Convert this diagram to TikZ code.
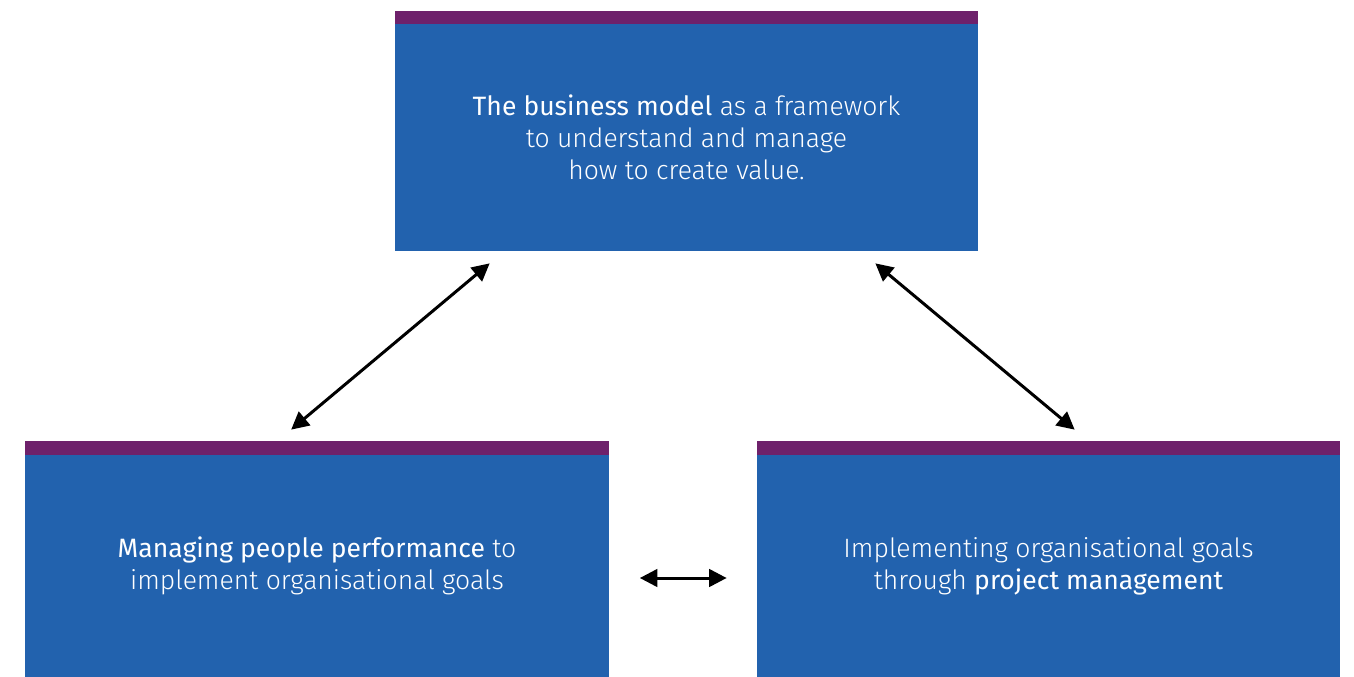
\documentclass[tikz,border=0pt]{standalone}
\usepackage{fontspec}
\setmainfont{Fira Sans}[UprightFont=* Light, BoldFont=*]
\usetikzlibrary{arrows.meta,positioning}
\definecolor{boxblue}{RGB}{34,98,174}
\definecolor{barpurple}{RGB}{110,33,107}
\begin{document}
\begin{tikzpicture}[
    box/.style={fill=boxblue, text=white, minimum width=11.66cm, align=center,
      font=\fontsize{15.1}{18.2}\selectfont},
    bar/.style={fill=barpurple},
    link/.style={{Triangle[length=10pt,width=10pt]}-{Triangle[length=10pt,width=10pt]}, line width=1.7pt}
  ]
  \useasboundingbox (0, 0) rectangle (27.08, -13.54);
  \node [box, minimum height=4.54cm] (model) at (13.73, -2.75)
    {\textbf{The business model} as a framework\\ to understand and manage\\ how to create value.};
  \node [box, minimum height=4.44cm] (people) at (6.34, -11.32)
    {\textbf{Managing people performance} to\\ implement organisational goals};
  \node [box, minimum height=4.44cm] (project) at (20.97, -11.32)
    {Implementing organisational goals\\ through \textbf{project management}};
  \fill [bar] (model.north west) rectangle ([yshift=0.26cm] model.north east);
  \fill [bar] (people.north west) rectangle ([yshift=0.28cm] people.north east);
  \fill [bar] (project.north west) rectangle ([yshift=0.28cm] project.north east);
  % arrow ends
  \coordinate (m1) at ([xshift=1.9cm, yshift=-0.24cm] model.south west);
  \coordinate (m2) at ([xshift=-2.06cm, yshift=-0.24cm] model.south east);
  \coordinate (p1) at ([xshift=5.32cm, yshift=0.5cm] people.north west);
  \coordinate (q1) at ([xshift=6.36cm, yshift=0.5cm] project.north west);
  \coordinate (p2) at ([xshift=0.62cm, yshift=-0.24cm] people.east);
  \coordinate (q2) at ([xshift=-0.6cm, yshift=-0.24cm] project.west);
  \draw [link] (m1) -- (p1);
  \draw [link] (m2) -- (q1);
  \draw [link] (p2) -- (q2);
\end{tikzpicture}
\end{document}
